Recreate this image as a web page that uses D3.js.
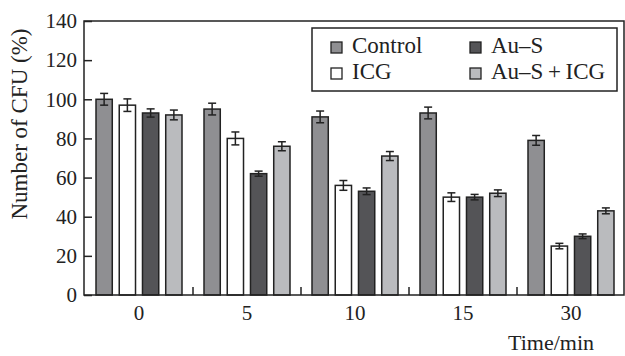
<!DOCTYPE html>
<html lang="en">
<head>
<meta charset="utf-8" />
<title>CFU bar chart</title>
<script src="https://cdn.jsdelivr.net/npm/d3@7/dist/d3.min.js"></script>
<style>
  body { margin: 0; background: #fff; }
  text { font-family: "Liberation Serif", "DejaVu Serif", serif; fill: #222; }
</style>
</head>
<body>
<svg width="625" height="356"></svg>
<script>
// data
var times = ["0", "5", "10", "15", "30"];
var seriesNames = ["Control", "ICG", "Au\u2013S", "Au\u2013S\u2009+\u2009ICG"];
var control = [100, 95, 91, 93, 79];
var icg = [97, 80, 56, 50, 25];
var aus = [93, 62, 53, 50, 30];
var ausIcg = [92, 76, 71, 52, 43];
var controlErr = [3, 3, 3, 3, 2.5];
var icgErr = [3.2, 3.3, 2.5, 2.2, 1.4];
var ausErr = [2.1, 1.3, 1.7, 1.4, 1.2];
var ausIcgErr = [2.5, 2.3, 2.3, 1.7, 1.5];
var yTicks = [0, 20, 40, 60, 80, 100, 120, 140];

var colors = ["#8f8f92", "#ffffff", "#545457", "#babbbe"];
var values = [control, icg, aus, ausIcg];
var errs = [controlErr, icgErr, ausErr, ausIcgErr];

var svg = d3.select("svg");
var plotL = 84, plotR = 624, plotT = 21, plotB = 295;

var x = d3.scaleBand().domain(times).range([plotL + 1, plotR + 1]);
var xInner = d3.scaleBand().domain(d3.range(4)).range([11, 97]).paddingInner(0.3);
var y = d3.scaleLinear().domain([0, 140]).range([plotB, plotT]);

// bars
var rows = [];
times.forEach(function (t, i) {
    for (var s = 0; s < 4; s++) {
        rows.push({ t: t, s: s, v: values[s][i], e: errs[s][i] });
    }
});

var g = svg.append("g");
g.selectAll("rect.bar").data(rows).enter().append("rect")
    .attr("class", "bar")
    .attr("x", function (d) { return x(d.t) + xInner(d.s); })
    .attr("width", xInner.bandwidth())
    .attr("y", function (d) { return y(d.v); })
    .attr("height", function (d) { return y(0) - y(d.v); })
    .attr("fill", function (d) { return colors[d.s]; })
    .attr("stroke", "#222")
    .attr("stroke-width", 1.5);

// error bars
var eb = g.selectAll("g.err").data(rows).enter().append("g").attr("class", "err")
    .attr("stroke", "#222").attr("stroke-width", 1.5);
function cx(d) { return x(d.t) + xInner(d.s) + xInner.bandwidth() / 2; }
eb.append("line")
    .attr("x1", cx).attr("x2", cx)
    .attr("y1", function (d) { return y(d.v + d.e); })
    .attr("y2", function (d) { return y(d.v - d.e); });
[1, -1].forEach(function (sign) {
    eb.append("line")
        .attr("x1", function (d) { return cx(d) - 4; })
        .attr("x2", function (d) { return cx(d) + 4; })
        .attr("y1", function (d) { return y(d.v + sign * d.e); })
        .attr("y2", function (d) { return y(d.v + sign * d.e); });
});

// frame
svg.append("rect")
    .attr("x", plotL).attr("y", plotT)
    .attr("width", plotR - plotL).attr("height", plotB - plotT)
    .attr("fill", "none").attr("stroke", "#222").attr("stroke-width", 1.5);

// y axis, ticks pointing inside
var yAxis = svg.append("g")
    .attr("transform", "translate(" + plotL + ",0)")
    .call(d3.axisRight(y).tickValues(yTicks).tickSize(8));
yAxis.select(".domain").remove();
yAxis.selectAll("line").attr("stroke", "#222").attr("stroke-width", 1.5);
yAxis.selectAll("text")
    .attr("text-anchor", "end").attr("x", -7).attr("fill", "#222")
    .style("font-size", "21px").style("font-family", "Liberation Serif");

// x axis: ticks between groups, pointing up
var xAxis = svg.append("g").attr("transform", "translate(0," + plotB + ")");
xAxis.selectAll("line").data(times.slice(1)).enter().append("line")
    .attr("x1", function (d) { return x(d); })
    .attr("x2", function (d) { return x(d); })
    .attr("y1", 0).attr("y2", -8)
    .attr("stroke", "#222").attr("stroke-width", 1.5);
xAxis.selectAll("text").data(times).enter().append("text")
    .attr("x", function (d) { return x(d) + x.bandwidth() / 2; })
    .attr("y", 25)
    .attr("text-anchor", "middle")
    .style("font-size", "21px")
    .text(function (d) { return d; });

// axis titles
svg.append("text")
    .attr("transform", "translate(27,124) rotate(-90)")
    .attr("text-anchor", "middle")
    .style("font-size", "23px")
    .text("Number of CFU (%)");
svg.append("text")
    .attr("x", 551).attr("y", 350)
    .attr("text-anchor", "middle")
    .style("font-size", "22px")
    .text("Time/min");

// legend
var legend = svg.append("g");
legend.append("rect")
    .attr("x", 312).attr("y", 28).attr("width", 305).attr("height", 63)
    .attr("fill", "#fff").attr("stroke", "#222").attr("stroke-width", 1.5);
var legendPos = [[331, 42], [331, 68], [470, 42], [470, 68]];
var items = legend.selectAll("g.item").data(seriesNames).enter().append("g")
    .attr("class", "item")
    .attr("transform", function (d, i) { return "translate(" + legendPos[i][0] + "," + legendPos[i][1] + ")"; });
items.append("rect")
    .attr("width", 11).attr("height", 11)
    .attr("fill", function (d, i) { return colors[i]; })
    .attr("stroke", "#222").attr("stroke-width", 1.3);
items.append("text")
    .attr("x", 21).attr("y", 11)
    .style("font-size", "23px")
    .text(function (d) { return d; });
</script>
</body>
</html>
